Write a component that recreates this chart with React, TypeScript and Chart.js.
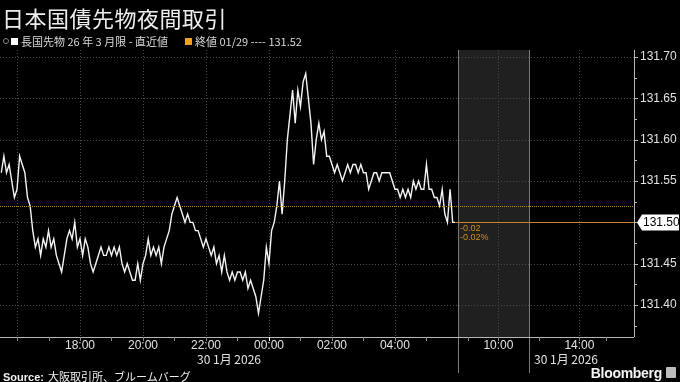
import React, { useEffect, useRef } from 'react';
import { Chart, registerables } from 'chart.js';

Chart.register(...registerables);

// ---- text ----
const TITLE = '日本国債先物夜間取引';
const LEGEND_SERIES = '長国先物 26 年 3 月限 - 直近値';
const LEGEND_CLOSE = '終値 01/29 ---- 131.52';
const DATE_LABEL = '30 1月 2026';
const SOURCE_LABEL = 'Source:';
const SOURCE_TEXT = '大阪取引所、ブルームバーグ';
const BRAND = 'Bloomberg';

// ---- data ----
const PREV_CLOSE = 131.52;
const LAST_PRICE = 131.5;
const CHANGE_LABELS = ['-0.02', '-0.02%'];
const SESSION_START_HOUR = 15.5; // 15:30 on 29 Jan (hours since 00:00 29 Jan)
const STEP_MINUTES = 5;
const PRICES = [
  131.56, 131.58, 131.56, 131.57, 131.55, 131.53, 131.54, 131.58, 131.57, 131.56,
  131.53, 131.52, 131.49, 131.47, 131.48, 131.46, 131.48, 131.47, 131.49, 131.47,
  131.48, 131.46, 131.45, 131.44, 131.46, 131.48, 131.49, 131.48, 131.50, 131.47,
  131.48, 131.46, 131.48, 131.47, 131.45, 131.44, 131.45, 131.46, 131.47, 131.46,
  131.46, 131.47, 131.46, 131.47, 131.46, 131.47, 131.45, 131.44, 131.45, 131.44,
  131.43, 131.43, 131.45, 131.43, 131.45, 131.46, 131.48, 131.46, 131.47, 131.46,
  131.47, 131.45, 131.47, 131.48, 131.49, 131.51, 131.52, 131.53, 131.52, 131.51,
  131.50, 131.51, 131.50, 131.50, 131.49, 131.49, 131.48, 131.47, 131.48, 131.47,
  131.46, 131.47, 131.45, 131.46, 131.44, 131.46, 131.44, 131.43, 131.44, 131.43,
  131.44, 131.44, 131.43, 131.44, 131.42, 131.43, 131.42, 131.41, 131.39, 131.41,
  131.43, 131.47, 131.45, 131.49, 131.50, 131.52, 131.55, 131.51, 131.55, 131.60,
  131.63, 131.66, 131.62, 131.66, 131.64, 131.67, 131.68, 131.65, 131.62, 131.57,
  131.60, 131.62, 131.60, 131.61, 131.58, 131.58, 131.57, 131.56, 131.57, 131.56,
  131.55, 131.56, 131.57, 131.56, 131.57, 131.57, 131.56, 131.57, 131.56, 131.56,
  131.54, 131.55, 131.56, 131.56, 131.55, 131.56, 131.56, 131.56, 131.56, 131.55,
  131.54, 131.54, 131.53, 131.54, 131.53, 131.54, 131.53, 131.55, 131.54, 131.55,
  131.54, 131.54, 131.57, 131.54, 131.54, 131.53, 131.53, 131.52, 131.54, 131.51,
  131.50, 131.54, 131.50, 131.50,
];

// ---- axes ----
const Y_MIN = 131.3613;
const Y_MAX = 131.7085;
const Y_TICKS = [131.4, 131.45, 131.5, 131.55, 131.6, 131.65, 131.7];
const Y_MINOR = [131.375, 131.425, 131.475, 131.525, 131.575, 131.625, 131.675];

// night session hours (since 00:00 29 Jan), day session hours (clock time 30 Jan)
const NIGHT_END = 30; // 06:00 30 Jan
const DAY_COMPRESS = 0.643;
const BREAK_DAY = [8, 11.5];
const X_MIN = 15.46;
const X_MAX = 35.59;
const NIGHT_LABEL_HOURS = [18, 20, 22, 24, 26, 28];
const NIGHT_LABELS = ['18:00', '20:00', '22:00', '00:00', '02:00', '04:00'];
const NIGHT_GRID_HOURS = [16, 18, 20, 22, 24, 26, 28];
const NIGHT_MINOR_HOURS = [16, 17, 18, 19, 20, 21, 22, 23, 24, 25, 26, 27, 28, 29];
const DAY_LABEL_HOURS = [10, 14];
const DAY_LABELS = ['10:00', '14:00'];
const DAY_MINOR_HOURS = [8.5, 10, 12, 14, 15.3];

const dayAxis = (h: number) => NIGHT_END + (h - 8) * DAY_COMPRESS;

const X_TICK_VALUES = [...NIGHT_LABEL_HOURS, ...DAY_LABEL_HOURS.map(dayAxis)];
const X_TICK_LABELS = [...NIGHT_LABELS, ...DAY_LABELS];

const COLORS = {
  bg: '#000000',
  line: '#f4f4f4',
  grid: '#4a4a4a',
  axis: '#b8b8b8',
  text: '#e2e2e2',
  band: '#202020',
  sep: '#7a7a7a',
  orange: '#c9822c',
};

const overlayPlugin = {
  id: 'overlay',
  beforeDatasetsDraw(chart: any) {
    const { ctx, chartArea: a, scales } = chart;
    const x = scales.x;
    const y = scales.y;
    const seg = (x1: number, y1: number, x2: number, y2: number) => {
      ctx.beginPath();
      ctx.moveTo(x1, y1);
      ctx.lineTo(x2, y2);
      ctx.stroke();
    };
    ctx.save();
    // break band
    const b0 = Math.round(x.getPixelForValue(dayAxis(BREAK_DAY[0])));
    const b1 = Math.round(x.getPixelForValue(dayAxis(BREAK_DAY[1])));
    ctx.fillStyle = COLORS.band;
    ctx.fillRect(b0, a.top, b1 - b0, a.bottom - a.top);

    // dotted grid
    ctx.strokeStyle = COLORS.grid;
    ctx.lineWidth = 1;
    ctx.setLineDash([1, 2]);
    Y_TICKS.forEach((v) => {
      const py = Math.round(y.getPixelForValue(v)) + 0.5;
      seg(a.left, py, a.right, py);
    });
    [...NIGHT_GRID_HOURS, ...DAY_LABEL_HOURS.map(dayAxis)].forEach((u) => {
      const px = Math.round(x.getPixelForValue(u)) + 0.5;
      seg(px, a.top, px, a.bottom);
    });
    ctx.setLineDash([]);

    // session separators
    ctx.strokeStyle = COLORS.sep;
    [b0, b1].forEach((px) => seg(px + 0.5, a.top, px + 0.5, a.bottom + 36));

    // axis lines
    ctx.strokeStyle = COLORS.axis;
    seg(a.left, a.bottom + 0.5, a.right, a.bottom + 0.5);
    seg(a.right + 0.5, a.top, a.right + 0.5, a.bottom);

    // x tick marks
    [...NIGHT_MINOR_HOURS, ...DAY_MINOR_HOURS.map(dayAxis)].forEach((u) => {
      const px = Math.round(x.getPixelForValue(u)) + 0.5;
      ctx.strokeStyle = u === 24 ? '#ffffff' : '#8a8a8a';
      seg(px, a.bottom, px, a.bottom + 4);
    });
    // y tick marks
    ctx.strokeStyle = COLORS.axis;
    Y_TICKS.forEach((v) => {
      const py = Math.round(y.getPixelForValue(v)) + 0.5;
      seg(a.right, py, a.right + 4, py);
    });
    Y_MINOR.forEach((v) => {
      const py = Math.round(y.getPixelForValue(v)) + 0.5;
      seg(a.right, py, a.right + 3, py);
    });
    ctx.restore();
  },
  afterDatasetsDraw(chart: any) {
    const { ctx, chartArea: a, scales } = chart;
    const x = scales.x;
    const y = scales.y;
    ctx.save();
    // previous close dotted line
    const pc = Math.round(y.getPixelForValue(PREV_CLOSE)) + 0.5;
    ctx.strokeStyle = COLORS.orange;
    ctx.lineWidth = 1;
    ctx.setLineDash([1, 1]);
    ctx.beginPath();
    ctx.moveTo(a.left, pc);
    ctx.lineTo(a.right, pc);
    ctx.stroke();
    ctx.setLineDash([]);
    // last price extension
    const lastX = x.getPixelForValue(SESSION_START_HOUR + ((PRICES.length - 1) * STEP_MINUTES) / 60);
    const lp = Math.round(y.getPixelForValue(LAST_PRICE)) + 0.5;
    ctx.beginPath();
    ctx.moveTo(lastX, lp);
    ctx.lineTo(a.right, lp);
    ctx.stroke();
    // change labels
    ctx.fillStyle = '#d08a30';
    ctx.font = '9px "Liberation Sans", Arial, sans-serif';
    ctx.textBaseline = 'middle';
    ctx.textAlign = 'left';
    const bx = x.getPixelForValue(NIGHT_END) + 2;
    ctx.fillText(CHANGE_LABELS[0], bx, lp + 6);
    ctx.fillText(CHANGE_LABELS[1], bx, lp + 15);

    // last value box on the axis
    const left = a.right + 3;
    const h = 16;
    ctx.fillStyle = '#ffffff';
    ctx.beginPath();
    ctx.moveTo(left, lp);
    ctx.lineTo(left + 5, lp - h / 2);
    ctx.lineTo(679, lp - h / 2);
    ctx.lineTo(679, lp + h / 2);
    ctx.lineTo(left + 5, lp + h / 2);
    ctx.closePath();
    ctx.fill();
    ctx.fillStyle = '#000000';
    ctx.font = '12px "Liberation Sans", Arial, sans-serif';
    ctx.fillText(LAST_PRICE.toFixed(2), left + 6, lp + 0.5);
    ctx.restore();
  },
};

export default function App() {
  const canvasRef = useRef<HTMLCanvasElement | null>(null);

  useEffect(() => {
    document.body.style.margin = '0';
    document.body.style.background = '#000';
    const canvas = canvasRef.current;
    if (!canvas) return;
    const chart = new Chart(canvas, {
      type: 'line',
      data: {
        datasets: [
          {
            data: PRICES.map((p, i) => ({ x: SESSION_START_HOUR + (i * STEP_MINUTES) / 60, y: p })),
            borderColor: COLORS.line,
            borderWidth: 1.4,
            pointRadius: 0,
            tension: 0,
            fill: false,
          },
        ],
      },
      options: {
        animation: false,
        responsive: false,
        maintainAspectRatio: false,
        layout: { padding: { top: 50, left: 0, right: 0, bottom: 0 } },
        plugins: {
          legend: { display: false },
          tooltip: { enabled: false },
          title: { display: false },
        },
        scales: {
          x: {
            type: 'linear',
            min: X_MIN,
            max: X_MAX,
            afterBuildTicks: (s: any) => {
              s.ticks = X_TICK_VALUES.map((v) => ({ value: v }));
            },
            afterFit: (s: any) => {
              s.height = 45;
            },
            grid: { display: false, drawTicks: false },
            border: { display: false },
            ticks: {
              color: COLORS.text,
              font: { size: 12, family: '"Liberation Sans", Arial, sans-serif' },
              padding: 1,
              autoSkip: false,
              maxRotation: 0,
              callback: (_v: any, i: number) => X_TICK_LABELS[i],
            },
          },
          y: {
            type: 'linear',
            position: 'right',
            min: Y_MIN,
            max: Y_MAX,
            afterBuildTicks: (s: any) => {
              s.ticks = Y_TICKS.map((v) => ({ value: v }));
            },
            afterFit: (s: any) => {
              s.width = 46;
            },
            grid: { display: false, drawTicks: false },
            border: { display: false },
            ticks: {
              color: COLORS.text,
              font: { size: 12, family: '"Liberation Sans", Arial, sans-serif' },
              padding: 6,
              callback: (v: any) => Number(v).toFixed(2),
            },
          },
        },
      },
      plugins: [overlayPlugin],
    });
    return () => chart.destroy();
  }, []);

  const jp = '"Noto Sans CJK JP", "Noto Sans", sans-serif';
  const lat = '"Liberation Sans", Arial, sans-serif';

  return (
    <div style={{ position: 'relative', width: 680, height: 382, background: COLORS.bg, overflow: 'hidden' }}>
      <canvas ref={canvasRef} width={680} height={382} style={{ position: 'absolute', left: 0, top: 0, width: 680, height: 382 }} />
      <div style={{ position: 'absolute', left: 2, top: 2, fontFamily: jp, fontSize: 22, color: '#ededed', lineHeight: '30px', letterSpacing: 0.5 }}>
        {TITLE}
      </div>
      <div style={{ position: 'absolute', left: 3, top: 34, height: 14, display: 'flex', alignItems: 'center', fontFamily: jp, fontSize: 11, color: '#d8d8d8', lineHeight: '14px', whiteSpace: 'nowrap' }}>
        <span style={{ display: 'inline-block', width: 4, height: 4, border: '1px solid #888', borderRadius: 3, marginRight: 2 }} />
        <span style={{ display: 'inline-block', width: 7, height: 7, background: '#ffffff', marginRight: 3 }} />
        <span>{LEGEND_SERIES}</span>
      </div>
      <div style={{ position: 'absolute', left: 185, top: 34, height: 14, display: 'flex', alignItems: 'center', fontFamily: jp, fontSize: 11, color: '#d8d8d8', lineHeight: '14px', whiteSpace: 'nowrap' }}>
        <span style={{ display: 'inline-block', width: 7, height: 7, background: '#f0a020', marginRight: 3 }} />
        <span>{LEGEND_CLOSE}</span>
      </div>
      <div style={{ position: 'absolute', left: 193, top: 351, width: 72, textAlign: 'center', fontFamily: jp, fontSize: 12, color: COLORS.text, lineHeight: '16px', whiteSpace: 'nowrap' }}>
        {DATE_LABEL}
      </div>
      <div style={{ position: 'absolute', left: 534, top: 351, fontFamily: jp, fontSize: 12, color: COLORS.text, lineHeight: '16px', whiteSpace: 'nowrap' }}>
        {DATE_LABEL}
      </div>
      <div style={{ position: 'absolute', left: 3, top: 369, fontSize: 11, color: '#f0f0f0', lineHeight: '14px', whiteSpace: 'nowrap' }}>
        <span style={{ fontFamily: lat, fontWeight: 'bold' }}>{SOURCE_LABEL}</span>
        <span style={{ fontFamily: jp, marginLeft: 4 }}>{SOURCE_TEXT}</span>
      </div>
      <div style={{ position: 'absolute', right: 18, top: 365, fontFamily: lat, fontWeight: 'bold', fontSize: 14, color: '#f4f4f4', lineHeight: '16px', letterSpacing: -0.3 }}>
        {BRAND}
      </div>
      <div style={{ position: 'absolute', left: 666, top: 367, width: 10, height: 11, background: '#bdbdbd', borderRadius: 1 }} />
    </div>
  );
}
